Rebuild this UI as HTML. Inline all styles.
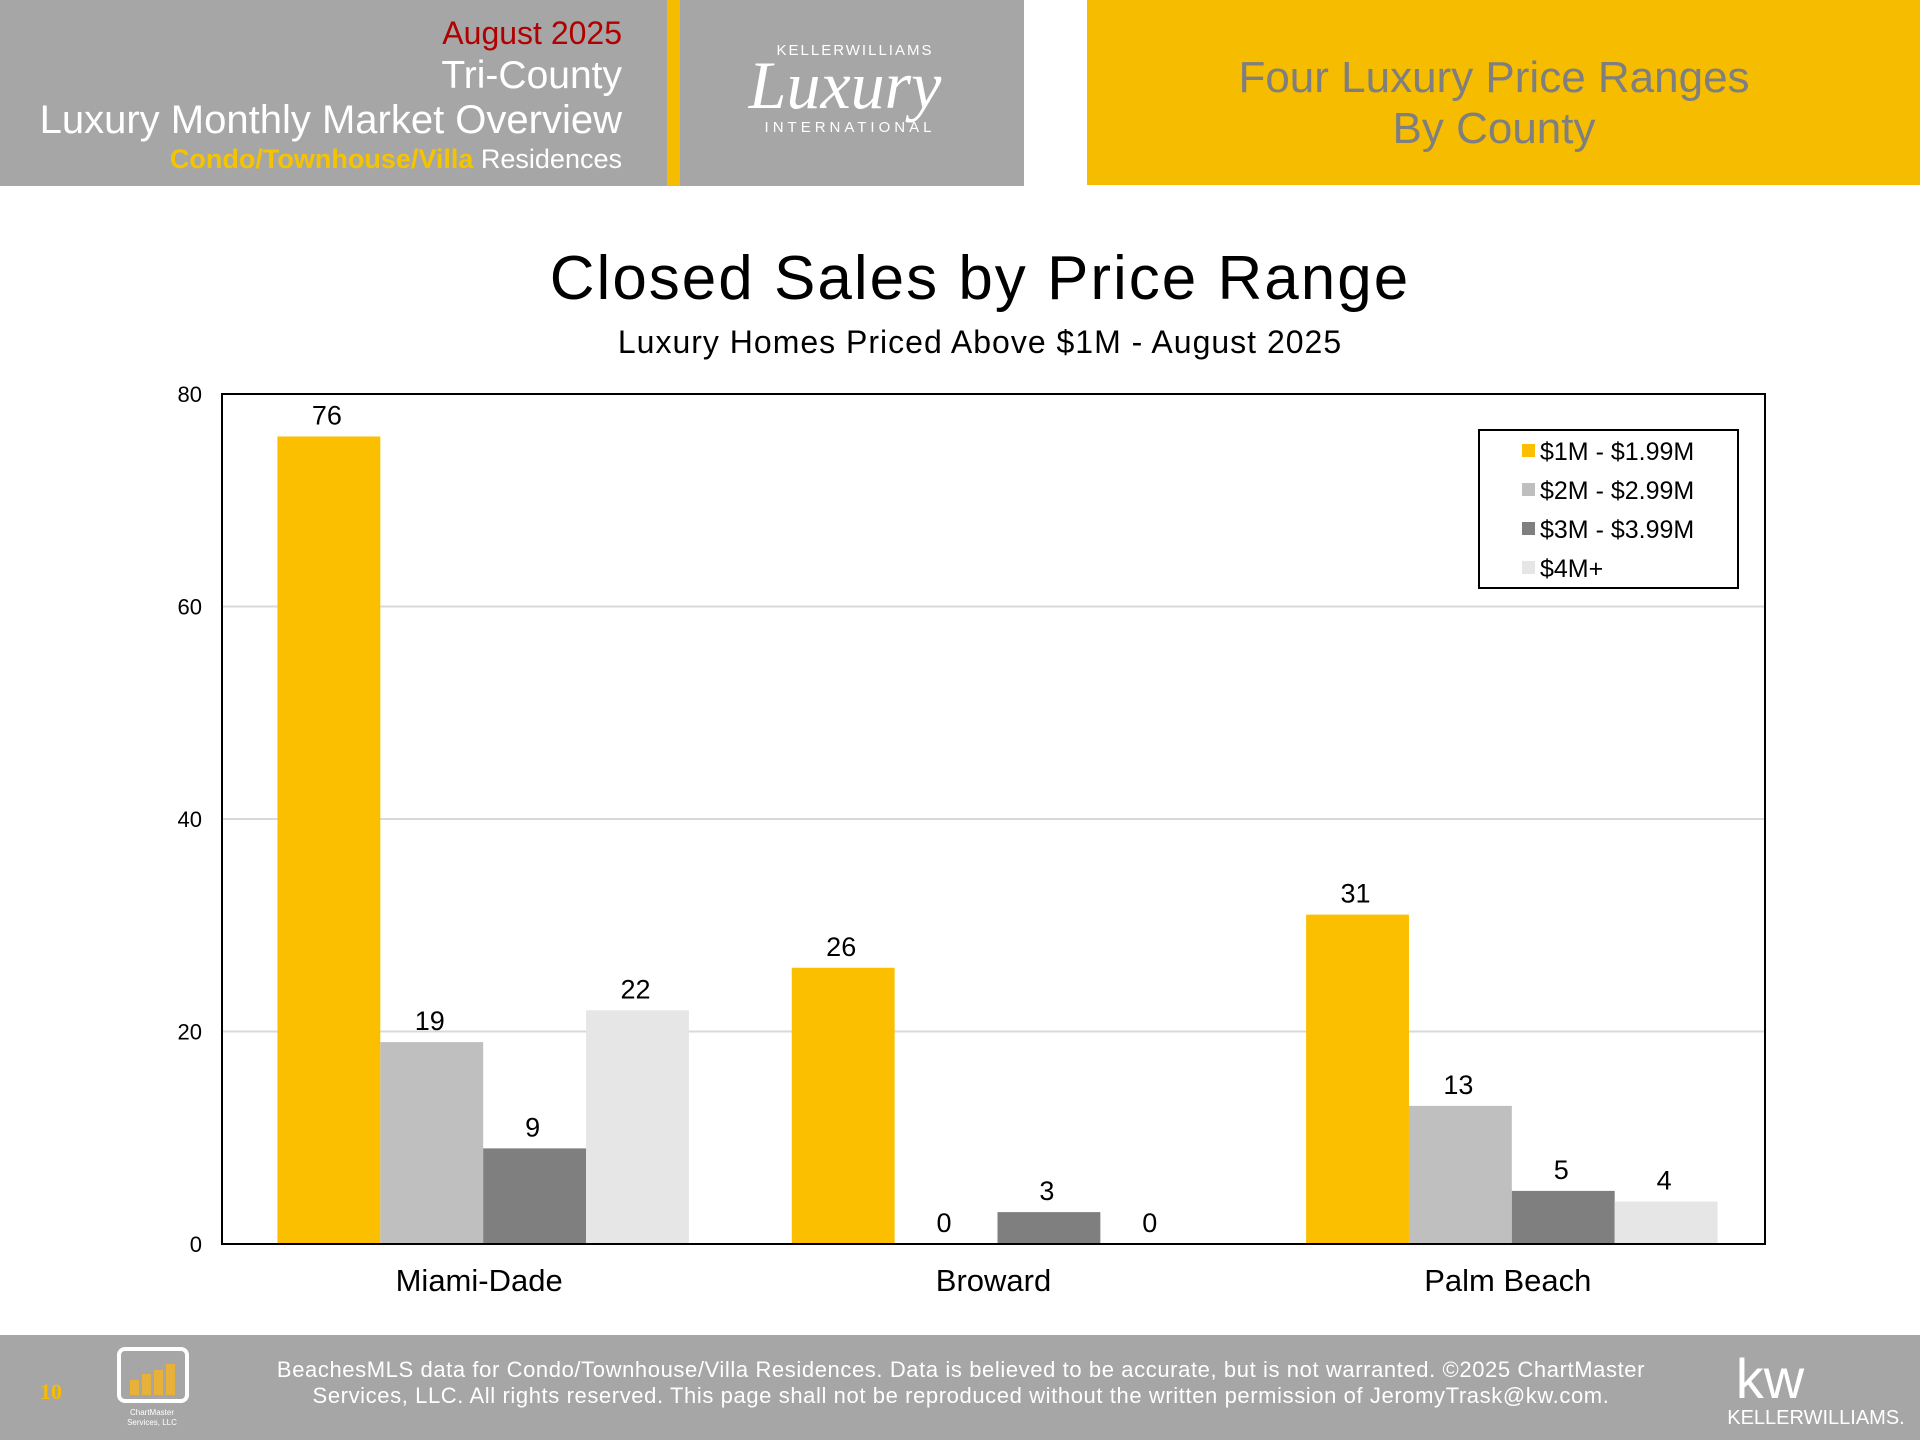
<!DOCTYPE html>
<html><head><meta charset="utf-8"><style>
html,body{margin:0;padding:0;width:1920px;height:1440px;overflow:hidden;background:#fff;font-family:"Liberation Sans",sans-serif;}
svg{display:block}
</style></head><body>
<svg id="page" width="1920" height="1440" viewBox="0 0 1920 1440" xmlns="http://www.w3.org/2000/svg" font-family="Liberation Sans, sans-serif">
<g>
<rect x="0" y="0" width="1024" height="186" fill="#a6a6a6"/>
<rect x="667" y="0" width="13" height="186" fill="#f5bc00"/>
<text x="622" y="44" text-anchor="end" font-size="32" fill="#b00000">August 2025</text>
<text x="622" y="88" text-anchor="end" font-size="39" fill="#fff">Tri-County</text>
<text x="622" y="133" text-anchor="end" font-size="40" fill="#fff">Luxury Monthly Market Overview</text>
<text x="622" y="168" text-anchor="end" font-size="27" fill="#fff"><tspan fill="#f5c400" font-weight="bold">Condo/Townhouse/Villa</tspan> Residences</text>
<g>
<text x="855" y="55" text-anchor="middle" font-size="15" fill="#fff" letter-spacing="2">KELLERWILLIAMS</text>
<text x="845" y="108" text-anchor="middle" font-size="68" font-style="italic" font-family="Liberation Serif, serif" fill="#fff">Luxury</text>
<text x="850" y="132" text-anchor="middle" font-size="15" fill="#fff" letter-spacing="4">INTERNATIONAL</text>
</g>
<rect x="1087" y="0" width="833" height="185" fill="#f5bc00"/>
<text x="1494" y="92" text-anchor="middle" font-size="44" fill="#7f7f7f">Four Luxury Price Ranges</text>
<text x="1494" y="143" text-anchor="middle" font-size="44" fill="#7f7f7f">By County</text>
</g>
<text x="980" y="299" text-anchor="middle" font-size="62" letter-spacing="2" fill="#000">Closed Sales by Price Range</text>
<text x="980" y="353" text-anchor="middle" font-size="32" letter-spacing="1" fill="#000">Luxury Homes Priced Above $1M - August 2025</text>
<g id="chart"></g>
<g>
<rect x="0" y="1335" width="1920" height="105" fill="#a6a6a6"/>
<text x="51" y="1399" text-anchor="middle" font-size="22" fill="#f5bc00" font-family="Liberation Serif, serif" font-weight="bold">10</text>
<g>
<rect x="119" y="1349" width="68" height="52" rx="6" fill="none" stroke="#fff" stroke-width="4"/>
<rect x="130" y="1380" width="9" height="15" fill="#e8b23a"/><rect x="142" y="1374" width="9" height="21" fill="#e8b23a"/><rect x="154" y="1370" width="9" height="25" fill="#e8b23a"/><rect x="166" y="1364" width="9" height="31" fill="#e8b23a"/>
<text x="152" y="1415" text-anchor="middle" font-size="8" fill="#fff">ChartMaster</text>
<text x="152" y="1425" text-anchor="middle" font-size="8" fill="#fff">Services, LLC</text>
</g>
<text x="961" y="1377" text-anchor="middle" font-size="22" letter-spacing="0.6" fill="#fff">BeachesMLS data for Condo/Townhouse/Villa Residences.  Data is believed to be accurate, but is not warranted.   ©2025  ChartMaster</text>
<text x="961" y="1403" text-anchor="middle" font-size="22" letter-spacing="0.6" fill="#fff">Services, LLC.  All rights reserved. This page shall not be reproduced without the written permission of JeromyTrask@kw.com.</text>
<g>
<text x="1770" y="1398" text-anchor="middle" font-size="56" fill="#fff">kw</text>
<text x="1816" y="1424" text-anchor="middle" font-size="20" fill="#fff">KELLERWILLIAMS.</text>
</g>
</g>
</svg>
<script>
const categories = ["Miami-Dade", "Broward", "Palm Beach"];
const seriesNames = ["$1M - $1.99M", "$2M - $2.99M", "$3M - $3.99M", "$4M+"];
const series1 = [76, 26, 31];
const series2 = [19, 0, 13];
const series3 = [9, 3, 5];
const series4 = [22, 0, 4];
const yTicks = [0, 20, 40, 60, 80];
const colors = ["#fbbf00", "#bfbfbf", "#7f7f7f", "#e6e6e6"];
const allSeries = [series1, series2, series3, series4];

const NS = "http://www.w3.org/2000/svg";
const g = document.getElementById("chart");
const L = 222, R = 1765, T = 394, B = 1244, yMax = 80;
const y = v => B - (v / yMax) * (B - T);
const catW = (R - L) / categories.length;
const barW = catW * 0.8 / allSeries.length;
const x = (ci, si) => L + ci * catW + catW * 0.1 + 4 + si * barW;
function mk(tag, attrs) { const e = document.createElementNS(NS, tag); for (const k in attrs) e.setAttribute(k, attrs[k]); g.appendChild(e); return e; }

yTicks.forEach(t => {
  if (t > 0 && t < yMax) {
    const l = mk("line", {x1: L, x2: R, y1: y(t), y2: y(t), stroke: "#d9d9d9", "stroke-width": 2});
    
    
  }
  const tx = mk("text", {x: 202, y: y(t) + 8, "text-anchor": "end", "font-size": 22, fill: "#000"});
  tx.textContent = t;
  
  
});
allSeries.forEach((s, si) => {
  s.forEach((v, ci) => {
    const r = mk("rect", {x: x(ci, si), y: y(v), width: barW, height: B - y(v), fill: colors[si]});
    
    
    const lb = mk("text", {x: x(ci, si) + barW / 2 - 2, y: y(v) - 12, "text-anchor": "middle", "font-size": 27, fill: "#000"});
    lb.textContent = v;
    
    
  });
});
const frame = mk("rect", {x: L, y: T, width: R - L, height: B - T, fill: "none", stroke: "#000", "stroke-width": 2});


categories.forEach((c, ci) => {
  const t = mk("text", {x: L + ci * catW + catW / 2, y: 1291, "text-anchor": "middle", "font-size": 31, fill: "#000"});
  t.textContent = c;
  
  
});
const lg = mk("rect", {x: 1479, y: 430, width: 259, height: 158, fill: "#fff", stroke: "#000", "stroke-width": 2});


seriesNames.forEach((n, i) => {
  const cy = 451 + i * 39;
  const m = mk("rect", {x: 1522, y: cy - 7, width: 13, height: 13, fill: colors[i]});
  
  
  const t = mk("text", {x: 1540, y: cy + 9, "font-size": 25, fill: "#000"});
  t.textContent = n;
  
  
});
</script>
</body></html>
